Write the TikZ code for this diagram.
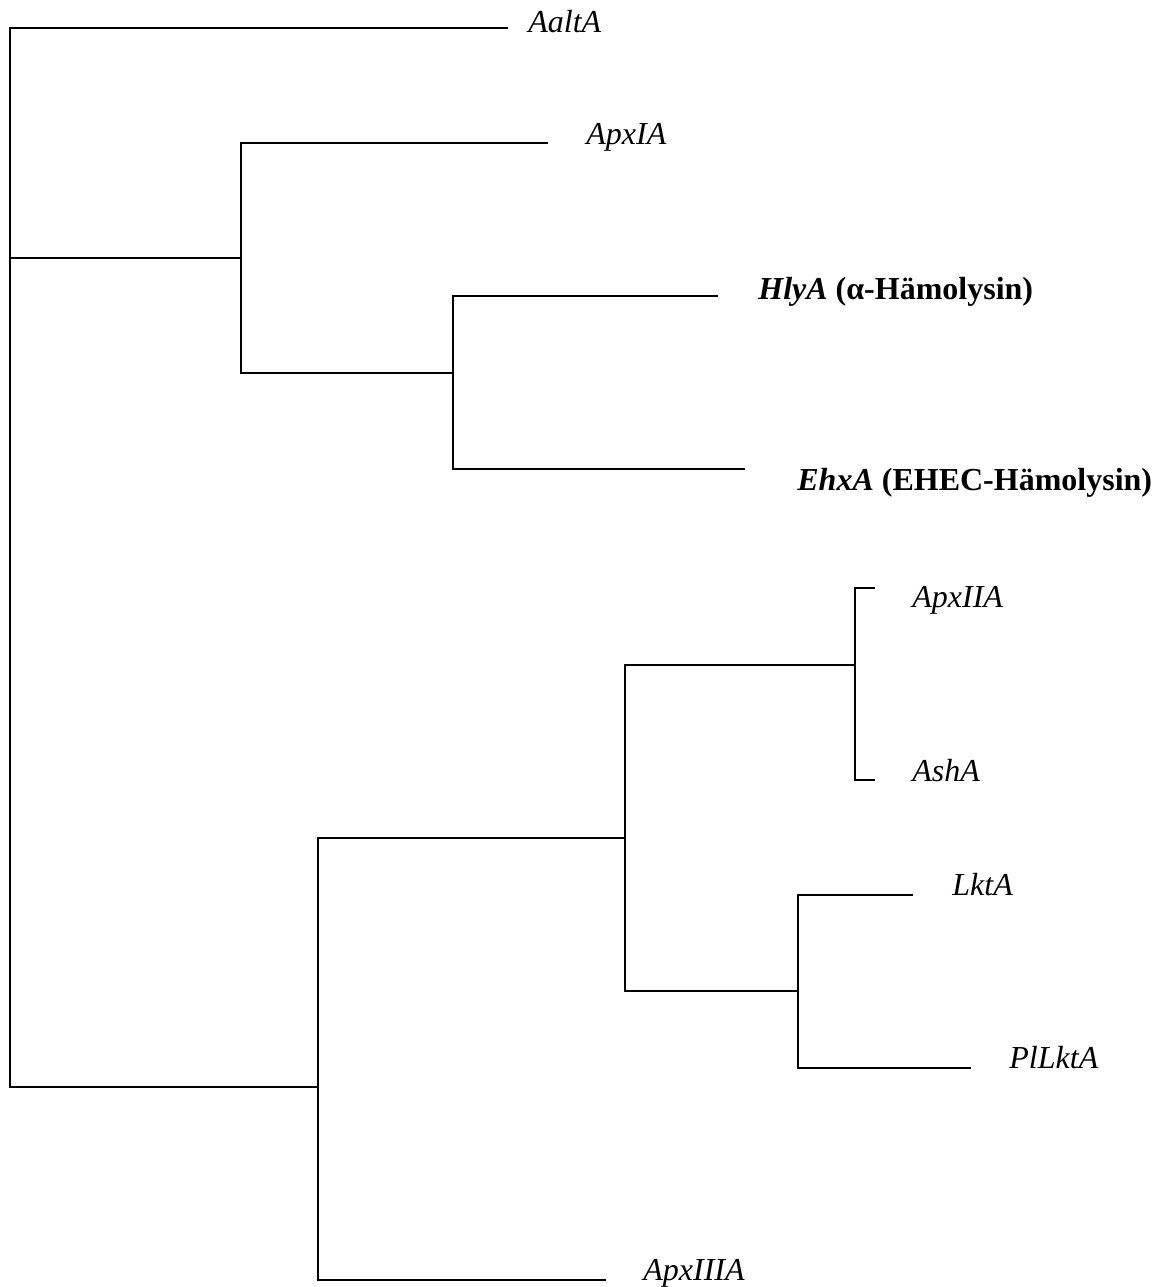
\documentclass[tikz,border=0pt]{standalone}
\usepackage{fontspec}
\setmainfont{Liberation Serif}
\usetikzlibrary{positioning}

\begin{document}
\begin{tikzpicture}[
  x=0.5pt, y=-0.5pt,
  branch/.style={line width=1.1pt},
  leaf/.style={anchor=base west, inner sep=0pt, font=\fontsize{16}{19}\selectfont\itshape},
  boldleaf/.style={leaf, font=\fontsize{16}{19}\selectfont\bfseries}
]
\useasboundingbox (0,0) rectangle (1171,1287);

\coordinate (root) at (10,1087);
\coordinate (n1) at (241,258);
\coordinate (n2) at (453,373);
\coordinate (n3) at (318,1087);
\coordinate (n4) at (625,838);
\coordinate (n5) at (855,665);
\coordinate (n6) at (798,991);

\coordinate (aalt) at (508,28);
\coordinate (apx1) at (548,143);
\coordinate (hly) at (718,296);
\coordinate (ehx) at (745,469);
\coordinate (apx2) at (875,588);
\coordinate (ash) at (875,780);
\coordinate (lkt) at (913,895);
\coordinate (pllkt) at (971,1068);
\coordinate (apx3) at (606,1280);

\node[leaf] (aaltL) at (528,32) {AaltA};
\node[leaf] (apx1L) at (586,144) {ApxIA};
\node[boldleaf] (hlyL) at (758,299) {\textit{HlyA} (α-Hämolysin)};
\node[boldleaf] (ehxL) at (797,490) {\textit{EhxA} (EHEC-Hämolysin)};
\node[leaf] (apx2L) at (912,607) {ApxIIA};
\node[leaf] (ashL) at (912,781) {AshA};
\node[leaf] (lktL) at (952,895) {LktA};
\node[leaf] (pllktL) at (1009,1068) {PlLktA};
\node[leaf] (apx3L) at (643,1280) {ApxIIIA};

\draw[branch] (aalt) -| (root) -- (n3);
\draw[branch] (n1) -- (n1 -| root);
\draw[branch] (apx1) -| (n1) |- (n2);
\draw[branch] (hly) -| (n2) |- (ehx);
\draw[branch] (n4) -| (n3) |- (apx3);
\draw[branch] (n5) -| (n4) |- (n6);
\draw[branch] (apx2) -| (n5) |- (ash);
\draw[branch] (lkt) -| (n6) |- (pllkt);
\end{tikzpicture}
\end{document}
